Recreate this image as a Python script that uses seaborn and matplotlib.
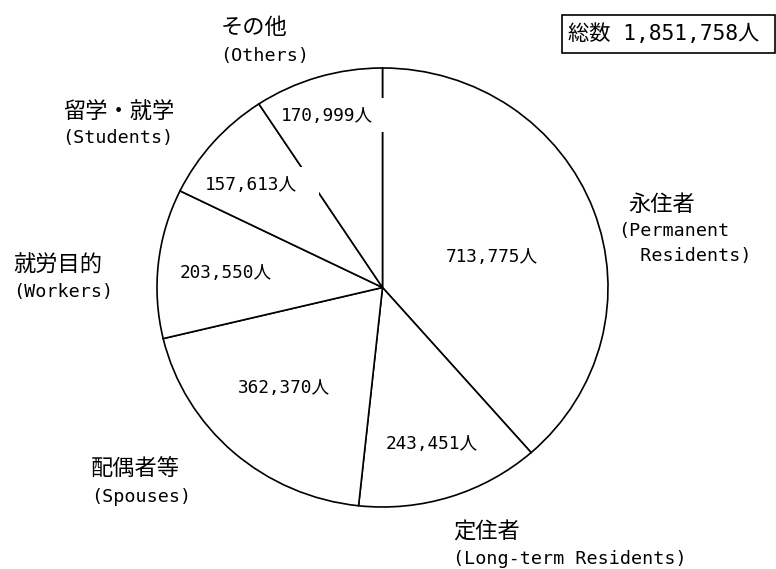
import matplotlib
matplotlib.use("Agg")
import matplotlib.pyplot as plt
from matplotlib.patches import Rectangle
import seaborn as sns

# ---- data ----
categories_ja = ["永住者", "定住者", "配偶者等", "就労目的", "留学・就学", "その他"]
categories_en = ["(Permanent\n  Residents)", "(Long-term Residents)", "(Spouses)",
                 "(Workers)", "(Students)", "(Others)"]
values = [713775, 243451, 362370, 203550, 157613, 170999]
total = 1851758

sns.set_theme(style="white")
plt.rcParams['font.family'] = ['DejaVu Sans Mono', 'Noto Sans CJK JP']
plt.rcParams['text.color'] = 'black'

W, H = 776, 569
fig = plt.figure(figsize=(W / 100, H / 100), dpi=100)
fig.patch.set_facecolor("white")

# pie axes (slightly elliptical like the reference)
cx0, cx1, cy0, cy1 = 157, 608, 68, 507
ax = fig.add_axes([cx0 / W, 1 - cy1 / H, (cx1 - cx0) / W, (cy1 - cy0) / H])
wedges, _ = ax.pie(values, startangle=90, counterclock=False,
                   colors=["white"] * len(values),
                   wedgeprops=dict(edgecolor="black", linewidth=1.2))
for w in wedges:
    w.set_clip_on(False)
ax.set_aspect("auto")
ax.set_xlim(-1, 1)
ax.set_ylim(-1, 1)
ax.axis("off")


def ftext(x, y, s, **kw):
    return fig.text(x / W, 1 - y / H, s, color="black", **kw)


def frect(x0, y0, x1, y1, **kw):
    r = Rectangle((x0 / W, 1 - y1 / H), (x1 - x0) / W, (y1 - y0) / H,
                  transform=fig.transFigure, **kw)
    fig.patches.append(r)
    return r


# inner value labels; their white text boxes interrupt the dividing lines
inner_pos = [(492, 257), (432, 444), (284, 388), (226, 273), (251, 185), (327, 116)]
for (x, y), v in zip(inner_pos, values):
    frect(x - 47, y - 18, x + 68, y + 16, facecolor="white", edgecolor="none", zorder=2)
    ftext(x, y, f"{v:,}人", ha="center", va="center", fontsize=12.8, zorder=5)

# outer category labels (left x, centre y of first line)
ja_pos = [(628, 205), (453, 532), (91, 469), (13, 265), (63, 112), (221, 28)]
en_pos = [(618, 231), (453, 559), (91, 497), (13, 292), (62, 138), (220, 56)]
for (x, y), s in zip(ja_pos, categories_ja):
    ftext(x, y, s, ha="left", va="center", fontsize=16)
for (x, y), s in zip(en_pos, categories_en):
    for i, line in enumerate(s.split("\n")):
        ftext(x, y + 25 * i, line, ha="left", va="center", fontsize=13.2)

# total box
frect(562, 15, 775, 53, facecolor="white", edgecolor="black", linewidth=1.2, zorder=1)
ftext(568, 34, f"総数 {total:,}人", ha="left", va="center", fontsize=15.3)

fig.savefig("out.png", dpi=100, facecolor="white")
